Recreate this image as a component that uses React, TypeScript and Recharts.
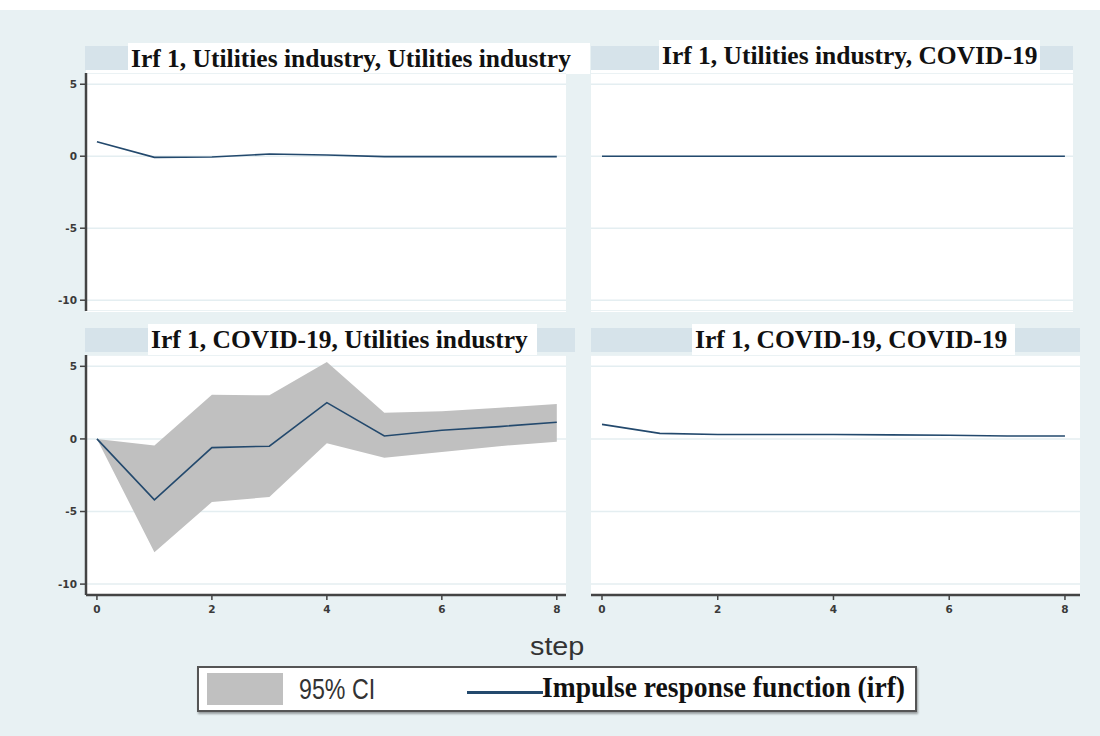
import React from "react";
import { Area, CartesianGrid, ComposedChart, Line, XAxis, YAxis } from "recharts";

const steps = [0, 1, 2, 3, 4, 5, 6, 7, 8];
const xTicks = [0, 2, 4, 6, 8];
const yTicks = [-10, -5, 0, 5];

const irfUtilUtil = [1.0, -0.08, -0.05, 0.15, 0.08, -0.03, -0.03, -0.03, -0.03];
const irfUtilCovid = [0, 0, 0, 0, 0, 0, 0, 0, 0];
const irfCovidUtil = [0, -4.2, -0.6, -0.5, 2.5, 0.2, 0.6, 0.85, 1.15];
const ciLowCovidUtil = [0, -7.8, -4.35, -4.0, -0.3, -1.3, -0.9, -0.5, -0.2];
const ciHighCovidUtil = [0, -0.45, 3.05, 3.0, 5.3, 1.8, 1.9, 2.15, 2.4];
const irfCovidCovid = [1.0, 0.38, 0.3, 0.3, 0.3, 0.28, 0.25, 0.2, 0.2];

const panelTitles = [
  "Irf 1, Utilities industry, Utilities industry",
  "Irf 1, Utilities industry, COVID-19",
  "Irf 1, COVID-19, Utilities industry",
  "Irf 1, COVID-19, COVID-19",
];

const BG = "#e8f1f3";
const BAR = "#d6e3ea";
const LINE = "#23496d";
const BAND = "#c0c0c0";
const Y_DOMAIN = [-10.75, 5.78];

type Row = { step: number; irf: number; ci?: [number, number] };

const buildRows = (irf: number[], lo?: number[], hi?: number[]): Row[] =>
  steps.map((s, i) => ({
    step: s,
    irf: irf[i],
    ...(lo && hi ? { ci: [lo[i], hi[i]] as [number, number] } : {}),
  }));

const tickStyle = { fontSize: 10.5, fill: "#3a3a3a", fontWeight: 700, fontFamily: "DejaVu Sans" };

type PanelProps = {
  left: number;
  top: number;
  width: number;
  height: number;
  rows: Row[];
  showY: boolean;
  showX: boolean;
  xDomain: [number, number];
  band?: boolean;
};

const Panel: React.FC<PanelProps> = ({ left, top, width, height, rows, showY, showX, xDomain, band }) => (
  <div style={{ position: "absolute", left, top }}>
    <ComposedChart width={width} height={height} data={rows} margin={{ top: 0, right: 0, bottom: 0, left: 0 }}>
      <CartesianGrid fill="#fff" stroke="#e4eef1" strokeWidth={1.5} vertical={false} />
      <XAxis
        dataKey="step"
        type="number"
        domain={xDomain}
        ticks={xTicks}
        hide={!showX}
        height={30}
        axisLine={{ stroke: "#444", strokeWidth: 2.5 }}
        tickLine={{ stroke: "#444", strokeWidth: 1.5 }}
        tickSize={5}
        tick={tickStyle}
        tickMargin={6}
      />
      <YAxis
        type="number"
        domain={Y_DOMAIN}
        ticks={yTicks}
        hide={!showY}
        width={46}
        axisLine={{ stroke: "#444", strokeWidth: 2.5 }}
        tickLine={{ stroke: "#444", strokeWidth: 1.5 }}
        tickSize={6}
        tick={tickStyle}
        tickMargin={3}
      />
      {band && (
        <Area
          dataKey="ci"
          type="linear"
          fill={BAND}
          fillOpacity={1}
          stroke="none"
          isAnimationActive={false}
          dot={false}
          activeDot={false}
        />
      )}
      <Line
        dataKey="irf"
        type="linear"
        stroke={LINE}
        strokeWidth={1.6}
        dot={false}
        activeDot={false}
        isAnimationActive={false}
      />
    </ComposedChart>
  </div>
);

const Header: React.FC<{ barLeft: number; barWidth: number; barTop: number; boxLeft: number; boxWidth: number; boxTop: number; text: string }> = ({
  barLeft, barWidth, barTop, boxLeft, boxWidth, boxTop, text,
}) => (
  <>
    <div style={{ position: "absolute", left: barLeft, top: barTop, width: barWidth, height: 24, background: BAR }} />
    <div
      style={{
        position: "absolute",
        left: boxLeft,
        top: boxTop,
        width: boxWidth,
        height: 31,
        background: "#fff",
        fontFamily: "'Liberation Serif', 'Times New Roman', serif",
        fontWeight: 700,
        fontSize: 25.5,
        lineHeight: "31px",
        color: "#111",
        paddingLeft: 3,
        boxSizing: "border-box",
        whiteSpace: "nowrap",
      }}
    >
      {text}
    </div>
  </>
);

export default function App() {
  return (
    <div style={{ position: "absolute", left: 0, top: 0, width: 1100, height: 736, background: "#fff", overflow: "hidden" }}>
      <div style={{ position: "absolute", left: 0, top: 10, width: 1100, height: 726, background: BG }} />

      {/* white panel strips under the headers */}
      <div style={{ position: "absolute", left: 86, top: 70, width: 480, height: 242, background: "#fff" }} />
      <div style={{ position: "absolute", left: 591, top: 70, width: 482, height: 242, background: "#fff" }} />

      <Header barLeft={85} barWidth={490} barTop={46} boxLeft={128} boxWidth={462} boxTop={43} text={panelTitles[0]} />
      <Header barLeft={591} barWidth={482} barTop={46} boxLeft={659} boxWidth={381} boxTop={40} text={panelTitles[1]} />
      <Header barLeft={85} barWidth={490} barTop={328} boxLeft={148} boxWidth={389} boxTop={324} text={panelTitles[2]} />
      <Header barLeft={591} barWidth={489} barTop={328} boxLeft={692} boxWidth={323} boxTop={324} text={panelTitles[3]} />

      <Panel left={40} top={73} width={526} height={238} rows={buildRows(irfUtilUtil)} showY showX={false} xDomain={[-0.19, 8.16]} />
      <Panel left={591} top={73} width={482} height={238} rows={buildRows(irfUtilCovid)} showY={false} showX={false} xDomain={[-0.19, 8.14]} />
      <Panel
        left={40}
        top={355}
        width={526}
        height={270}
        rows={buildRows(irfCovidUtil, ciLowCovidUtil, ciHighCovidUtil)}
        showY
        showX
        xDomain={[-0.19, 8.16]}
        band
      />
      <Panel left={591} top={355} width={489} height={270} rows={buildRows(irfCovidCovid)} showY={false} showX xDomain={[-0.19, 8.26]} />

      <div
        style={{
          position: "absolute",
          left: 530,
          top: 632,
          fontFamily: "'Liberation Sans', Arial, sans-serif",
          fontSize: 25,
          color: "#333",
          transform: "scaleX(1.15)",
          transformOrigin: "left center",
        }}
      >
        step
      </div>

      {/* legend */}
      <div
        style={{
          position: "absolute",
          left: 197,
          top: 666,
          width: 716,
          height: 42,
          background: "#fff",
          border: "2px solid #555",
          boxShadow: "1px 2px 2px rgba(0,0,0,0.35)",
        }}
      >
        <div style={{ position: "absolute", left: 8, top: 5, width: 76, height: 32, background: BAND }} />
        <div
          style={{
            position: "absolute",
            left: 100,
            top: 4,
            fontFamily: "'Liberation Sans', Arial, sans-serif",
            fontSize: 29,
            lineHeight: "34px",
            color: "#333",
            transform: "scaleX(0.8)",
            transformOrigin: "left center",
          }}
        >
          95% CI
        </div>
        <div style={{ position: "absolute", left: 268, top: 23, width: 76, height: 2.5, background: LINE }} />
        <div
          style={{
            position: "absolute",
            left: 343,
            top: 2,
            fontFamily: "'Liberation Serif', 'Times New Roman', serif",
            fontWeight: 700,
            fontSize: 29,
            lineHeight: "34px",
            color: "#111",
            transform: "scaleX(0.95)",
            transformOrigin: "left center",
            whiteSpace: "nowrap",
          }}
        >
          Impulse response function (irf)
        </div>
      </div>
    </div>
  );
}
